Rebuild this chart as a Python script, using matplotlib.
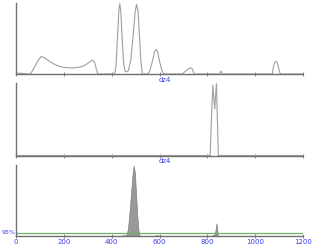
import numpy as np
import matplotlib
matplotlib.use('Agg')
import matplotlib.pyplot as plt

# panel 1: dz4 profile (fraction of max)
p1_x = [0, 20, 50, 60, 75, 90, 105, 120, 140, 160, 180, 200, 220, 240, 260, 280, 300, 318, 328, 335, 342,
        412, 418, 424, 430, 434, 438, 444, 450, 456, 462, 470, 480, 490, 498, 504, 510, 516, 522, 528,
        552, 560, 570, 580, 586, 592, 600, 610, 618,
        696, 705, 720, 730, 738, 742, 745,
        850, 857, 864,
        1072, 1076, 1082, 1088, 1094, 1100, 1105, 1200]
p1_y = [0.01, 0.01, 0, 0, 0.08, 0.18, 0.25, 0.23, 0.18, 0.14, 0.11, 0.095, 0.088, 0.087, 0.095, 0.11, 0.15, 0.2, 0.17, 0.08, 0,
        0, 0.1, 0.5, 0.9, 1.0, 0.9, 0.5, 0.15, 0.04, 0.03, 0.05, 0.2, 0.55, 0.88, 0.99, 0.9, 0.55, 0.2, 0,
        0, 0.05, 0.18, 0.32, 0.35, 0.32, 0.18, 0.05, 0,
        0, 0.03, 0.07, 0.09, 0.07, 0.02, 0,
        0, 0.04, 0,
        0, 0.1, 0.17, 0.18, 0.14, 0.06, 0, 0]

# panel 2: dz4 second profile
p2_x = [0, 812, 817, 823, 827, 831, 834, 838, 842, 846, 1200]
p2_y = [0, 0, 0.5, 0.98, 0.8, 0.65, 0.82, 1.0, 0.5, 0, 0]

# panel 3: filled density
p3_x = [0, 430, 440, 455, 462, 468, 475, 482, 488, 492, 497, 502, 507, 512, 516, 520,
        580, 585, 600, 605, 815, 822, 830, 834, 838, 841, 844, 1200]
p3_y = [0, 0, 0.005, 0.01, 0.02, 0.1, 0.35, 0.65, 0.9, 1.0, 0.9, 0.6, 0.3, 0.08, 0.01, 0,
        0, 0.01, 0.005, 0, 0, 0.01, 0.02, 0.08, 0.18, 0.1, 0, 0]
level95 = 0.04

xticks = [0, 200, 400, 600, 800, 1000, 1200]
blue = '#3c3cf0'
axcol = '#707070'

fig = plt.figure(figsize=(3.12, 2.46), dpi=100)
left, width = 16/312, 287/312
ax1 = fig.add_axes([left, (246-74)/246, width, 71/246])
ax2 = fig.add_axes([left, (246-155.5)/246, width, 72.5/246])
ax3 = fig.add_axes([left, 10/246, width, 71/246])

for ax in (ax1, ax2, ax3):
    ax.set_xlim(0, 1200)
    ax.set_ylim(0, 1.01)
    for s in ('top', 'right'):
        ax.spines[s].set_visible(False)
    ax.spines['left'].set_color(axcol)
    ax.spines['bottom'].set_color(axcol)
    ax.spines['left'].set_linewidth(1.0)
    ax.spines['bottom'].set_linewidth(1.0)
    ax.set_yticks([])
    ax.set_xticks(xticks)
    ax.tick_params(axis='x', direction='inout', length=3, width=0.6, color=axcol,
                   labelsize=5, labelcolor=blue, pad=1)

ax1.plot(p1_x, p1_y, color='#a0a0a0', lw=0.8)
ax1.set_xticklabels([])
ax1.text(0.52, -0.04, 'dz4', transform=ax1.transAxes, color=blue, fontsize=5,
         ha='center', va='top')

ax2.plot(p2_x, p2_y, color='#a0a0a0', lw=0.8)
ax2.set_xticklabels([])
ax2.text(0.52, -0.04, 'dz4', transform=ax2.transAxes, color=blue, fontsize=5,
         ha='center', va='top')

ax3.fill_between(p3_x, p3_y, color='#999999', edgecolor='#808080', lw=0.5)
ax3.axhline(level95, color='#70b060', lw=0.9)
fig.text(1.5/312, 1 - 233/246, '95%', color=blue, fontsize=4.5, ha='left', va='center')

fig.savefig('out.png', dpi=100)
